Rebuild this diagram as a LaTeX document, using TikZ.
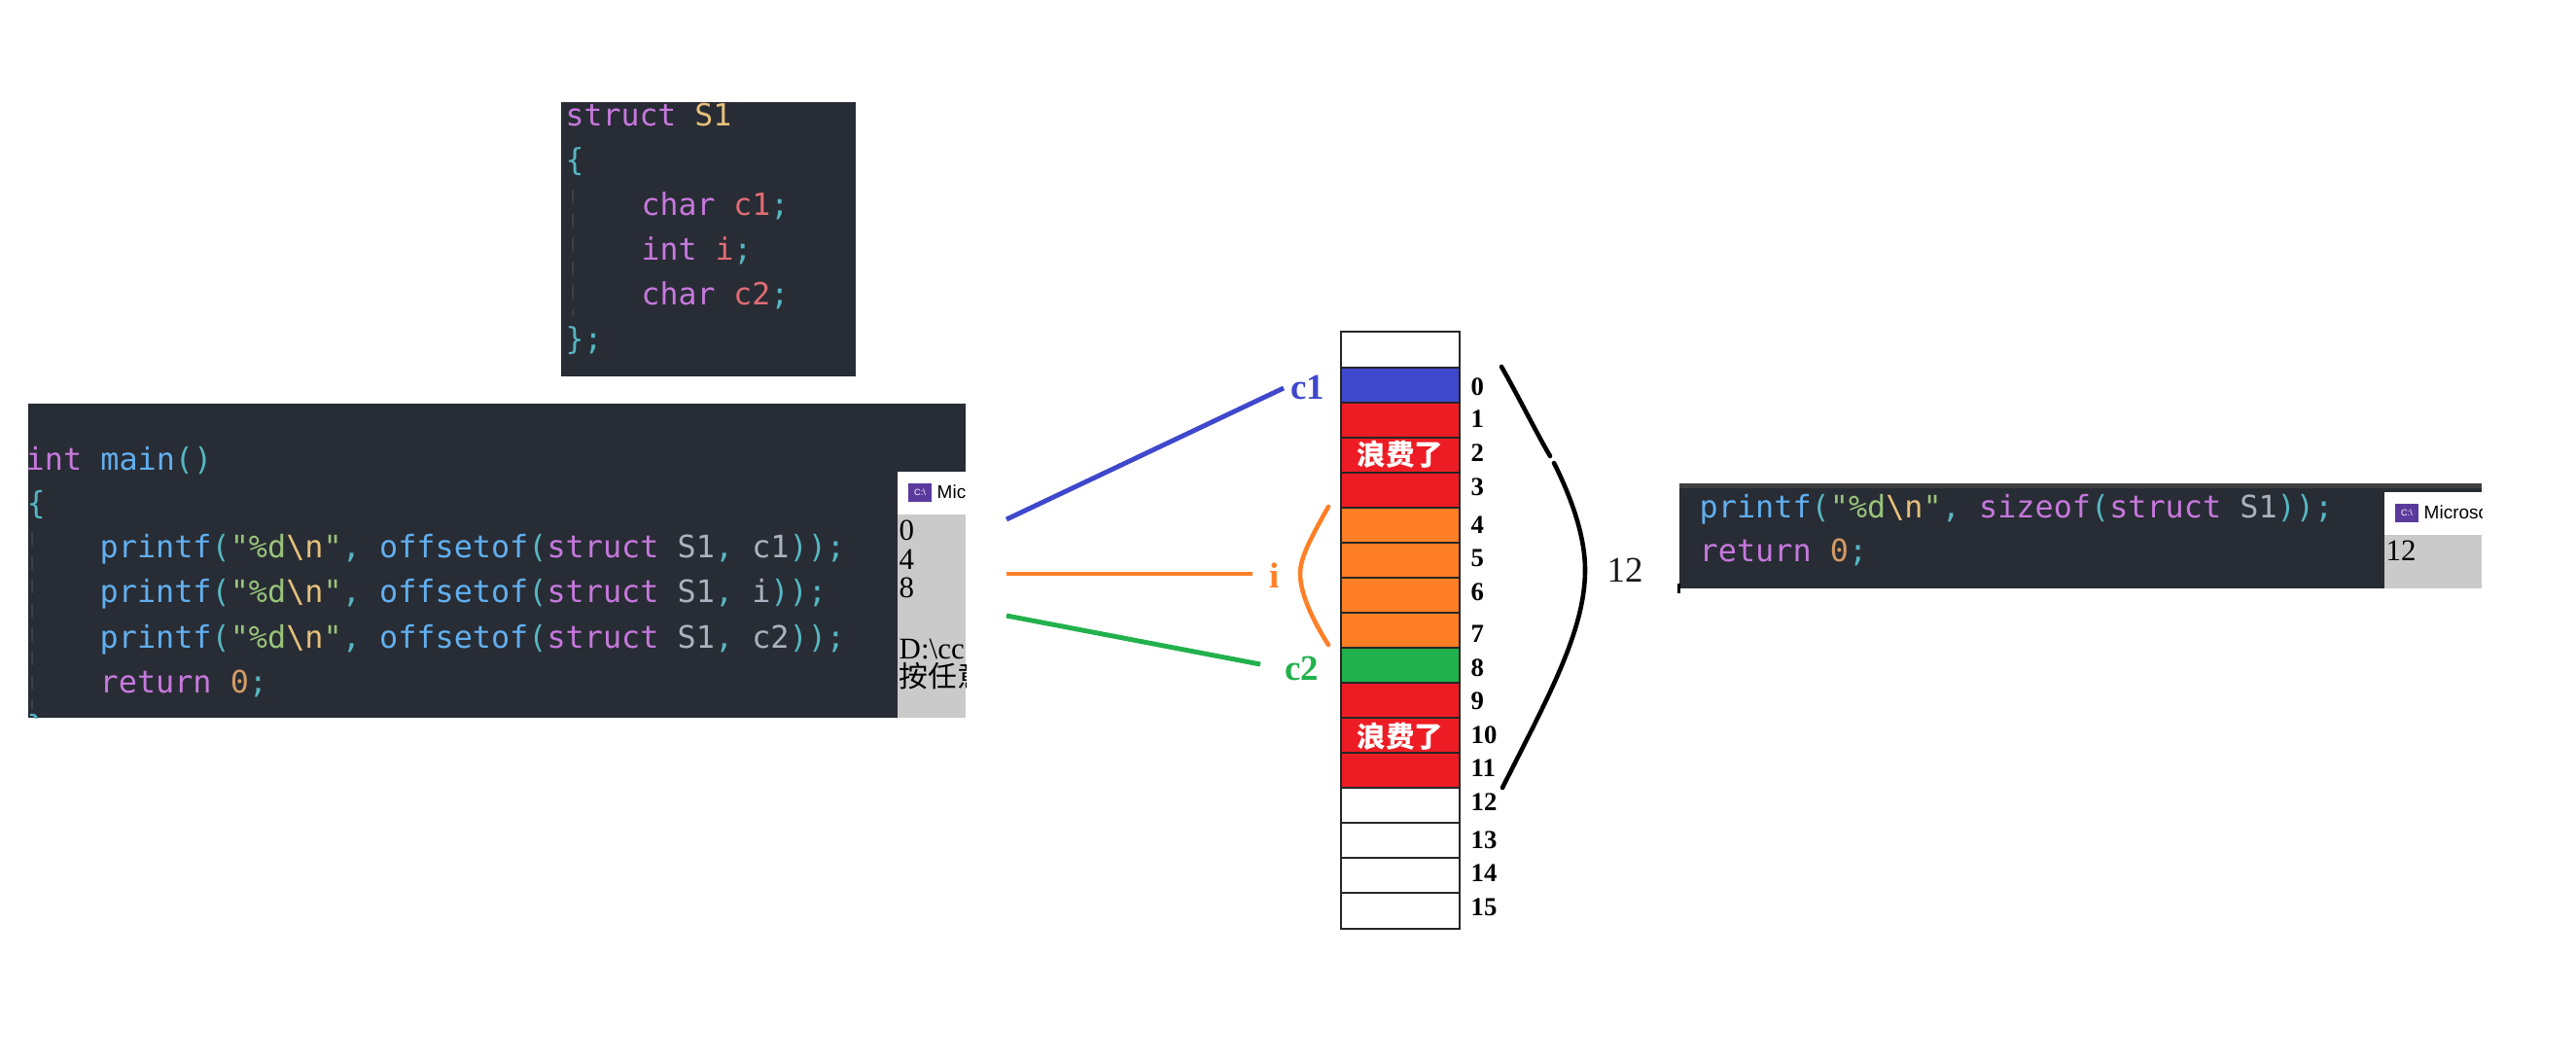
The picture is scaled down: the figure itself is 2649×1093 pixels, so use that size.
\documentclass[tikz,border=0pt]{standalone}
\usepackage{fontspec}
\setmainfont{Liberation Serif}
\setmonofont{DejaVu Sans Mono}
\newfontfamily\cjk{Noto Sans CJK SC}
\newfontfamily\uifont{Liberation Sans}
\usetikzlibrary{arrows.meta}
\definecolor{codebg}{HTML}{282C34}
\definecolor{guide}{HTML}{3B4048}
\definecolor{kwcol}{HTML}{C678DD}
\definecolor{fncol}{HTML}{61AFEF}
\definecolor{pucol}{HTML}{56B6C2}
\definecolor{strcol}{HTML}{98C379}
\definecolor{esccol}{HTML}{E5C07B}
\definecolor{idcol}{HTML}{ABB2BF}
\definecolor{numcol}{HTML}{D19A66}
\definecolor{varcol}{HTML}{E06C75}
\definecolor{consbg}{HTML}{CACACA}
\definecolor{iconbg}{HTML}{5B3A9E}
\definecolor{memblue}{HTML}{3F48CC}
\definecolor{memred}{HTML}{ED1C24}
\definecolor{memorange}{HTML}{FF7F27}
\definecolor{memgreen}{HTML}{22B14C}
\newcommand\ckw[1]{\textcolor{kwcol}{#1}}
\newcommand\cfn[1]{\textcolor{fncol}{#1}}
\newcommand\cpu[1]{\textcolor{pucol}{#1}}
\newcommand\cstr[1]{\textcolor{strcol}{#1}}
\newcommand\cesc[1]{\textcolor{esccol}{#1}}
\newcommand\cid[1]{\textcolor{idcol}{#1}}
\newcommand\cnum[1]{\textcolor{numcol}{#1}}
\newcommand\cvar[1]{\textcolor{varcol}{#1}}
\newcommand\cfmt{\cfn{printf}\cpu{(}\cstr{"\%d}\cesc{\textbackslash n}\cstr{"}\cpu{,}}
\tikzset{
  codeline/.style={anchor=base west, inner sep=0pt, font=\ttfamily\fontsize{9.05pt}{11pt}\selectfont},
  structline/.style={anchor=base west, inner sep=0pt, font=\ttfamily\fontsize{8.95pt}{11pt}\selectfont},
  consline/.style={anchor=west, inner sep=0pt, text=black, font=\fontsize{8.8pt}{10pt}\selectfont},
  constitle/.style={anchor=west, inner sep=0pt, text=black, font=\uifont\fontsize{5.4pt}{7pt}\selectfont},
  consicon/.style={fill=iconbg, text=white, inner sep=0pt, minimum width=0.24cm, minimum height=0.19cm, font=\uifont\fontsize{2.6pt}{3pt}\selectfont},
  rowlabel/.style={anchor=west, inner sep=0pt, font=\bfseries\fontsize{7.6pt}{9pt}\selectfont},
  memlabel/.style={inner sep=0pt, font=\bfseries\fontsize{10.5pt}{12pt}\selectfont},
  wastelabel/.style={inner sep=0pt, text=white, font=\cjk\bfseries\fontsize{8.4pt}{10pt}\selectfont},
  memline/.style={line width=1.4pt},
  bracket/.style={line width=1.3pt, line cap=round},
}
\begin{document}
\begin{tikzpicture}[x=0.01cm,y=-0.01cm]
\useasboundingbox[fill=white](0,0)rectangle(2649,1093);
% struct box
\fill[codebg](577,105)rectangle(880,387);
\draw[guide,line width=0.5pt,dash pattern=on 4pt off 3pt](589,195)--(589,325);
\node[structline](s1)at(581,129){\ckw{struct} \cesc{S1}};
\node[structline](s2)at(581,175){\cpu{\{}};
\node[structline](s3)at(659,221){\ckw{char} \cvar{c1}\cpu{;}};
\node[structline](s4)at(659,267){\ckw{int} \cvar{i}\cpu{;}};
\node[structline](s5)at(659,313){\ckw{char} \cvar{c2}\cpu{;}};
\node[structline](s6)at(581,359){\cpu{\};}};
% main box
\fill[codebg](29,415)rectangle(993,738);
\draw[guide,line width=0.5pt,dash pattern=on 4pt off 3pt](33,547)--(33,730);
\begin{scope}
\clip(29,415)rectangle(993,738);
\node[codeline](m1)at(26,483){\ckw{int} \cfn{main}\cpu{()}};
\node[codeline](m2)at(27,528){\cpu{\{}};
\node[codeline](m3)at(102,573){\cfmt{} \cfn{offsetof}\cpu{(}\ckw{struct} \cid{S1}\cpu{,} \cid{c1}\cpu{));}};
\node[codeline](m4)at(102,619){\cfmt{} \cfn{offsetof}\cpu{(}\ckw{struct} \cid{S1}\cpu{,} \cid{i}\cpu{));}};
\node[codeline](m5)at(102,666){\cfmt{} \cfn{offsetof}\cpu{(}\ckw{struct} \cid{S1}\cpu{,} \cid{c2}\cpu{));}};
\node[codeline](m6)at(102,712){\ckw{return} \cnum{0}\cpu{;}};
\node[codeline](m7)at(27,758){\cpu{\}}};
\end{scope}
% first console
\fill[white](923,485)rectangle(993,529);
\fill[consbg](923,529)rectangle(993,738);
\begin{scope}
\clip(923,485)rectangle(993,738);
\node[consicon](icona)at(946,506){C:\textbackslash};
\node[constitle](titlea)at(963,506){Microsoft};
\node[consline](out0)at(924,545){0};
\node[consline](out4)at(924,575){4};
\node[consline](out8)at(924,604){8};
\node[consline](outd)at(924,667){D:\textbackslash cc};
\node[consline,font=\cjk\fontsize{8.5pt}{10pt}\selectfont](outk)at(924,695){按任意};
\end{scope}
% memory cells
\foreach \ya/\yb/\col in {341/378/white,378/414/memblue,414/450/memred,450/486/memred,486/522/memred,
  522/558/memorange,558/594/memorange,594/630/memorange,630/666/memorange,666/702/memgreen,
  702/738/memred,738/774/memred,774/810/memred,810/846/white,846/882/white,882/918/white,918/955/white}
  \draw[line width=0.5pt,fill=\col,draw=black!85](1379,\ya)rectangle(1501,\yb);
\foreach \n/\y in {0/398,1/431,2/466,3/501,4/540,5/574,6/609,7/652,8/687,9/721,10/756,11/790,12/825,13/864,14/898,15/933}
  \node[rowlabel](row\n)at(1512,\y){\n};
\node[wastelabel](wastea)at(1440,467){浪费了};
\node[wastelabel](wasteb)at(1440,757){浪费了};
% labels and lines
\node[memlabel,text=memblue](labc1)at(1345,398){c1};
\node[memlabel,text=memorange](labi)at(1311,592){i};
\node[memlabel,text=memgreen](labc2)at(1339,687){c2};
\coordinate(fromc1)at(1035,534);
\coordinate(fromi)at(1035,590);
\coordinate(fromc2)at(1035,633);
\coordinate(toc1)at(1320,399);
\coordinate(toi)at(1288,590);
\coordinate(toc2)at(1296,683);
\draw[memline,memblue](fromc1)--(toc1);
\draw[memline,memorange](fromi)--(toi);
\draw[memline,memgreen](fromc2)--(toc2);
\draw[bracket,memorange](1366,521)..controls(1345,558)and(1337,575)..(1337,590)..controls(1337,610)and(1350,638)..(1366,663);
\draw[bracket,black](1544,377)..controls(1560,405)and(1580,445)..(1594,469);
\draw[bracket,black](1598,476)..controls(1615,510)and(1630,550)..(1630,586)..controls(1630,650)and(1590,720)..(1545,810);
\node[memlabel,font=\fontsize{10.5pt}{12pt}\selectfont,text=black!90](total)at(1671,586){12};
% right box
\fill[codebg](1727,497)rectangle(2552,605);
\fill[black!75!white](1727,497)rectangle(2552,502);
\fill[black](1725,600)rectangle(1728,610);
\node[codeline](r1)at(1747,532){\cfn{printf}\cpu{(}\cstr{"\%d}\cesc{\textbackslash n}\cstr{"}\cpu{,} \ckw{sizeof}\cpu{(}\ckw{struct} \cid{S1}\cpu{));}};
\node[codeline](r2)at(1747,577){\ckw{return} \cnum{0}\cpu{;}};
% second console
\fill[white](2452,506)rectangle(2552,550);
\fill[consbg](2452,550)rectangle(2552,605);
\begin{scope}
\clip(2452,506)rectangle(2552,605);
\node[consicon](iconb)at(2475,527){C:\textbackslash};
\node[constitle](titleb)at(2492,527){Microsoft};
\node[consline](outr)at(2453,566){12};
\end{scope}
\end{tikzpicture}
\end{document}
